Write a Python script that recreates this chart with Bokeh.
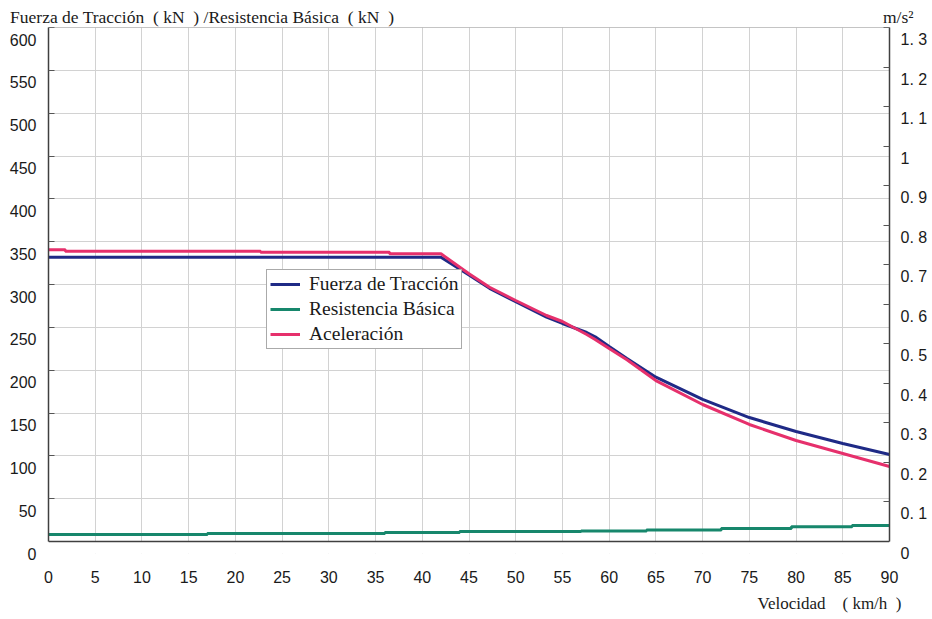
from bokeh.plotting import figure
from bokeh.models import (Range1d, LinearAxis, FixedTicker, Legend, LegendItem,
                          Span, BoxAnnotation, Title)
from bokeh.embed import file_html
from bokeh.resources import INLINE

# ---------------- data ----------------
speed_traction = [0, 42, 45, 47.2, 50, 53.3, 55, 57.6, 58.5, 60, 61.9, 65, 70, 75, 80, 85, 90]
traction_kN = [331.9, 331.9, 311, 295.5, 280, 262, 254.5, 244, 239, 227.7, 213.7, 191.8,
               165.8, 144.7, 128.4, 114.4, 101.6]

speed_resist = [0, 17, 17, 36, 36, 44, 44, 57, 57, 64, 64, 72, 72, 79.5, 79.5, 86, 86, 90]
resist_kN = [8.2, 8.2, 9.3, 9.3, 10.5, 10.5, 11.7, 11.7, 12.3, 12.3, 13.4, 13.4,
             15.2, 15.2, 17.2, 17.2, 18.7, 18.7]

speed_accel = [0, 1.8, 1.8, 22.7, 22.7, 36.5, 36.5, 42, 45, 47.2, 50, 53.3, 55, 57.6,
               58.5, 60, 61.9, 65, 70, 75, 80, 85, 90]
accel_ms2 = [0.7377, 0.7377, 0.7342, 0.7342, 0.7317, 0.7317, 0.7276, 0.7276, 0.677,
             0.643, 0.6095, 0.5716, 0.5564, 0.5235, 0.511, 0.488, 0.4595, 0.407,
             0.3465, 0.296, 0.2554, 0.2226, 0.1897]

x_ticks = [0, 5, 10, 15, 20, 25, 30, 35, 40, 45, 50, 55, 60, 65, 70, 75, 80, 85, 90]
left_ticks = [0, 50, 100, 150, 200, 250, 300, 350, 400, 450, 500, 550, 600]
right_ticks = [0, 0.1, 0.2, 0.3, 0.4, 0.5, 0.6, 0.7, 0.8, 0.9, 1.0, 1.1, 1.2, 1.3]
right_tick_labels = ["0", "0. 1", "0. 2", "0. 3", "0. 4", "0. 5", "0. 6", "0. 7",
                     "0. 8", "0. 9", "1", "1. 1", "1. 2", "1. 3"]

series_names = ["Fuerza de Tracción", "Resistencia Básica", "Aceleración"]
left_title = "Fuerza de Tracción\u00a0 ( kN\u00a0 ) /Resistencia Básica\u00a0 ( kN\u00a0 )"
right_title = "\u00a0\u00a0\u00a0\u00a0m/s²"
x_title = "Velocidad\u00a0\u00a0\u00a0 (\u00a0km/h\u00a0 )"

# ---------------- layout constants (pixels) ----------------
W, H = 930, 619
LEFT, TOP, RIGHT_B = 48, 27, 40          # frame left / top border, right border
PLOT_H = 514                              # height of the 0..600 area
SHIFT = 12                                # tick labels sit this far below their ticks
FRAME_H = PLOT_H + SHIFT
BOTTOM_B = H - TOP - FRAME_H

Y_MAX = 600
A_MAX = 1.3
y_lo = -Y_MAX * SHIFT / PLOT_H            # main range extends a little below 0
a_lo = -A_MAX * SHIFT / PLOT_H

BLUE = "#1f2a86"
GREEN = "#17876c"
PINK = "#e6306c"
SANS = "Liberation Sans"
SERIF = "Liberation Serif"
TXT = "#1a1a1a"
AXIS = "#404040"

# ---------------- figure ----------------
p = figure(width=W, height=H, output_backend="svg", toolbar_location=None,
           x_range=Range1d(0, 90), y_range=Range1d(y_lo, Y_MAX),
           min_border_left=LEFT, min_border_right=RIGHT_B, min_border_top=TOP,
           min_border_bottom=BOTTOM_B)
p.extra_y_ranges = {
    "acc": Range1d(a_lo, A_MAX),
    "left_lab": Range1d(0, Y_MAX - y_lo),
    "right_lab": Range1d(0, A_MAX - a_lo),
}
p.outline_line_color = None
p.background_fill_color = "white"
p.border_fill_color = "white"

# bottom axis: tick labels only
xa = p.xaxis[0]
xa.ticker = FixedTicker(ticks=x_ticks)
xa.major_label_text_font = SANS
xa.major_label_text_font_size = "16px"
xa.major_label_text_color = TXT
xa.major_label_standoff = 17
xa.major_tick_in = 0
xa.major_tick_out = 0
xa.minor_tick_line_color = None
xa.axis_line_color = None

# left axis: line + inward ticks (labels hidden)
ya = p.yaxis[0]
ya.ticker = FixedTicker(ticks=left_ticks)
ya.bounds = (0, Y_MAX)
ya.major_label_text_font_size = "1px"
ya.major_label_text_color = None
ya.major_label_standoff = 0
ya.major_tick_in = 6
ya.major_tick_out = 0
ya.major_tick_line_color = "#555555"
ya.minor_tick_line_color = None
ya.axis_line_color = AXIS
ya.axis_line_width = 1.5

# left tick labels (drawn a little below their ticks)
yl = LinearAxis(y_range_name="left_lab", ticker=FixedTicker(ticks=left_ticks))
yl.major_label_text_font = SANS
yl.major_label_text_font_size = "16px"
yl.major_label_text_color = TXT
yl.major_label_standoff = 12
yl.major_tick_in = 0
yl.major_tick_out = 0
yl.minor_tick_line_color = None
yl.axis_line_color = None
p.add_layout(yl, "left")

# right axis: line + inward ticks
ra = LinearAxis(y_range_name="acc", ticker=FixedTicker(ticks=right_ticks), bounds=(0, A_MAX))
ra.major_label_text_font_size = "1px"
ra.major_label_text_color = None
ra.major_label_standoff = 0
ra.major_tick_in = 6
ra.major_tick_out = 0
ra.major_tick_line_color = "#555555"
ra.minor_tick_line_color = None
ra.axis_line_color = AXIS
ra.axis_line_width = 1.5
p.add_layout(ra, "right")

# right tick labels
rl = LinearAxis(y_range_name="right_lab", ticker=FixedTicker(ticks=right_ticks))
rl.major_label_overrides = {t: s for t, s in zip(right_ticks, right_tick_labels)}
rl.major_label_text_font = SANS
rl.major_label_text_font_size = "16px"
rl.major_label_text_color = TXT
rl.major_label_standoff = 11
rl.major_tick_in = 0
rl.major_tick_out = 0
rl.minor_tick_line_color = None
rl.axis_line_color = None
p.add_layout(rl, "right")

# top: the two axis titles as labels of an axis placed above
top_ticks = [16.45, 90]
ta = LinearAxis(ticker=FixedTicker(ticks=top_ticks))
ta.major_label_overrides = {top_ticks[0]: left_title, top_ticks[1]: right_title}
ta.major_label_text_font = SERIF
ta.major_label_text_font_size = "17.5px"
ta.major_label_text_color = TXT
ta.major_label_standoff = 1
ta.major_tick_in = 0
ta.major_tick_out = 0
ta.minor_tick_line_color = None
ta.axis_line_color = None
p.add_layout(ta, "above")

# x-axis title at the lower right
p.add_layout(Title(text=x_title, align="right", offset=-12, standoff=13,
                   text_font=SERIF, text_font_size="17px", text_font_style="normal",
                   text_color=TXT), "below")

# grid
p.xgrid.grid_line_color = "#d2d2d2"
p.ygrid.grid_line_color = "#d2d2d2"
p.ygrid.ticker = FixedTicker(ticks=left_ticks)

# hide grid below the zero line, draw the frame's top and bottom lines
p.add_layout(BoxAnnotation(top=0, fill_color="white", fill_alpha=1, line_color=None))
p.add_layout(Span(location=0, dimension="width", line_color=AXIS, line_width=1.5))
p.add_layout(Span(location=Y_MAX, dimension="width", line_color="#8a8a8a", line_width=1))

# ---------------- lines ----------------
r1 = p.line(speed_traction, traction_kN, line_color=BLUE, line_width=3)
r2 = p.line(speed_resist, resist_kN, line_color=GREEN, line_width=3)
r3 = p.line(speed_accel, accel_ms2, line_color=PINK, line_width=3, y_range_name="acc")

legend = Legend(items=[LegendItem(label=series_names[0], renderers=[r1]),
                       LegendItem(label=series_names[1], renderers=[r2]),
                       LegendItem(label=series_names[2], renderers=[r3])],
                location=(218, 204), orientation="vertical",
                label_text_font=SERIF, label_text_font_size="19.5px",
                label_text_color=TXT,
                glyph_width=30, glyph_height=20, label_height=20,
                label_standoff=9, padding=3, spacing=3, margin=0,
                border_line_color="#555555", border_line_width=1,
                background_fill_color="white", background_fill_alpha=1)
p.add_layout(legend)

open("out.html", "w").write(file_html(p, INLINE))
